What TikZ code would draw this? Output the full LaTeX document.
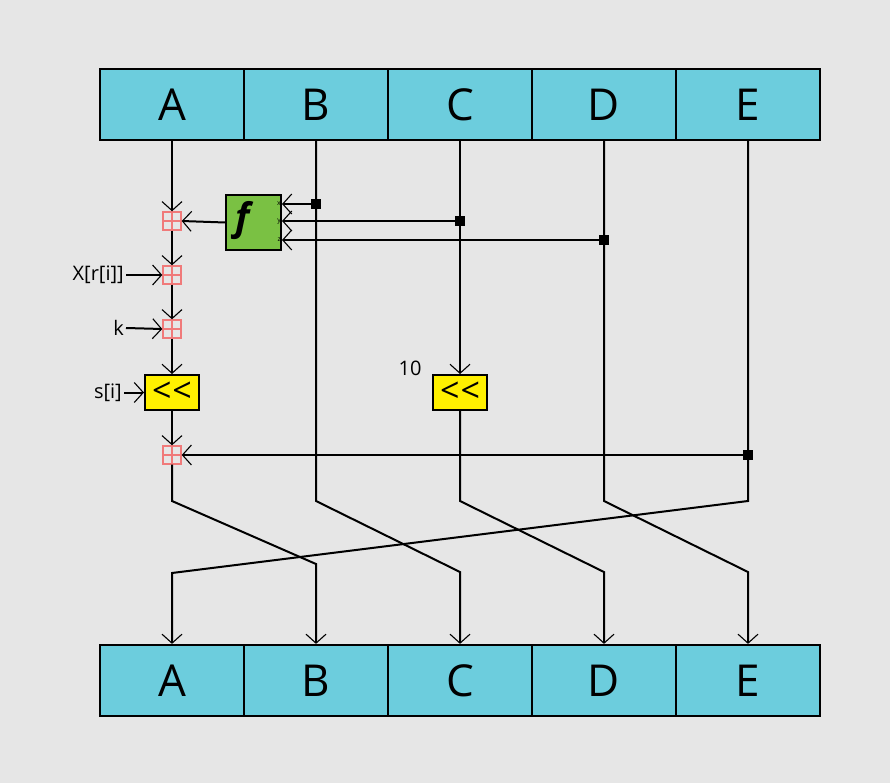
\documentclass[tikz,border=0pt]{standalone}
\usepackage{fontspec}
\setmainfont{Open Sans}
\usetikzlibrary{arrows.meta, positioning}
\definecolor{cBack}{HTML}{E6E6E6}
\definecolor{cReg}{HTML}{6CCDDD}
\definecolor{cFun}{HTML}{7AC143}
\definecolor{cShift}{HTML}{FFF000}
\definecolor{cAdd}{HTML}{F07A7A}
\tikzset{
	reg/.style      ={rectangle, draw=black, line width=2.2pt, fill=cReg, minimum width=144pt, minimum height=71pt, inner sep=0pt, font=\fontsize{44}{48}\selectfont},
	adder/.style    ={rectangle, draw=cAdd, line width=1.4pt, minimum size=18pt, inner sep=0pt,
		path picture={\draw[cAdd, line width=1.4pt] (path picture bounding box.north) -- (path picture bounding box.south)
			(path picture bounding box.west) -- (path picture bounding box.east);}},
	fbox/.style     ={rectangle, draw=black, line width=2pt, fill=cFun, minimum size=55pt, inner sep=0pt},
	shiftbox/.style ={rectangle, draw=black, line width=2pt, fill=cShift, minimum width=54pt, minimum height=35pt, inner sep=0pt, font=\fontsize{34}{36}\selectfont},
	junc/.style     ={rectangle, fill=black, minimum size=10pt, inner sep=0pt},
	lbl/.style      ={inner sep=2pt, font=\fontsize{20}{24}\selectfont},
	port/.style     ={inner sep=1pt, font=\fontsize{7}{8}\selectfont},
	wire/.style     ={line width=2pt},
	sig/.style      ={wire, -{Straight Barb[length=9pt, width=20pt, line width=1.1pt]}},
}

\begin{document}
\begin{tikzpicture}[x=1pt, y=-1pt]
	\fill[cBack] (0,0) rectangle (890,783);
	% registers
	\foreach \n [count=\i] in {A,B,C,D,E} {
		\node[reg] (t\n) at (28+144*\i,104.5) {\n};
		\node[reg] (b\n) at (28+144*\i,680.5) {\n};
	}
	% left column
	\node[adder] (add1) at (172,221) {};
	\node[adder] (add2) at (172,275) {};
	\node[adder] (add3) at (172,329) {};
	\node[shiftbox] (sh1) at (172,392.5) {<\kern1pt<};
	\node[adder] (add4) at (172,455) {};
	\node[lbl, anchor=east] (xr) at (126,275) {X[r[i]]};
	\node[lbl, anchor=east] (kk) at (126,328) {k};
	\node[lbl, anchor=east] (si) at (124,392.5) {s[i]};
	% boolean function
	\node[fbox] (f) at (253.5,222.5) {};
	\node[font=\fontsize{38}{40}\selectfont\bfseries\itshape] (fname) at (243,221) {f};
	\node[shiftbox] (sh2) at (460,392.5) {<\kern1pt<};
	\node[lbl] (ten) at (410,368) {10};
	% junctions
	\node[junc] (jB) at (316,204) {};
	\node[junc] (jC) at (460,221) {};
	\node[junc] (jD) at (604,240) {};
	\node[junc] (jE) at (748,455) {};
	\node[port, anchor=east] at (f.east |- jB) {x};
	\node[port, anchor=east] at (f.east |- jC) {y};
	\node[port, anchor=east] at (f.east |- jD) {z};

	\draw[sig] (tA.south) -- (add1.north);
	\draw[sig] (add1.south) -- (add2.north);
	\draw[sig] (add2.south) -- (add3.north);
	\draw[sig] (add3.south) -- (sh1.north);
	\draw[sig] (sh1.south) -- (add4.north);
	\draw[sig] (f.west) -- (add1.east);
	\draw[sig] (xr.east) -- (add2.west);
	\draw[sig] (kk.east) -- (add3.west);
	\draw[sig] (si.east) -- (sh1.west);
	\draw[sig] (jB.center) -- (f.east |- jB);
	\draw[sig] (jC.center) -- (f.east |- jC);
	\draw[sig] (jD.center) -- (f.east |- jD);
	\draw[sig] (jE.center) -- (add4.east);
	\draw[sig] (tC.south) -- (sh2.north);
	% permutation
	\draw[sig] (add4.south) -- (172,501) -- (316,564) -- (bB.north);
	\draw[sig] (tB.south) -- (316,501) -- (460,572) -- (bC.north);
	\draw[sig] (sh2.south) -- (460,501) -- (604,572) -- (bD.north);
	\draw[sig] (tD.south) -- (604,501) -- (748,572) -- (bE.north);
	\draw[sig] (tE.south) -- (748,501) -- (172,573) -- (bA.north);
	\node[junc] at (jB) {};
	\node[junc] at (jC) {};
	\node[junc] at (jD) {};
	\node[junc] at (jE) {};
\end{tikzpicture}
\end{document}
